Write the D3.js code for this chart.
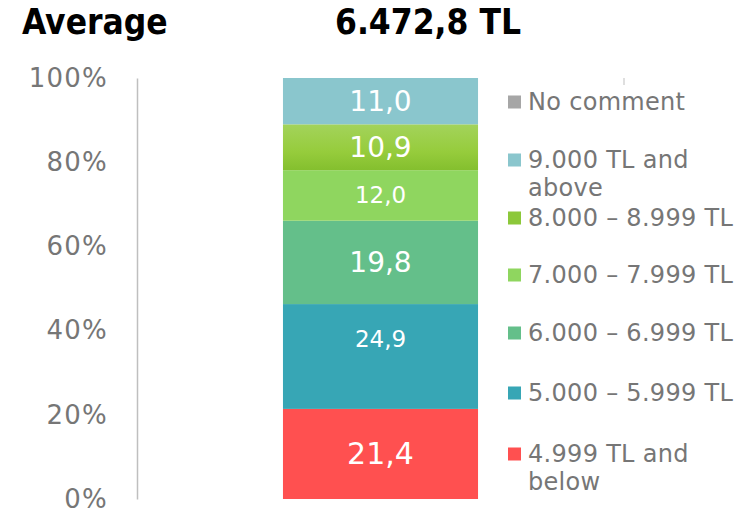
<!DOCTYPE html>
<html>
<head>
<meta charset="utf-8">
<script src="https://cdn.jsdelivr.net/npm/d3@7"></script>
<style>
  body { margin: 0; background: #fff; }
</style>
</head>
<body>
<div id="chart"></div>
<script>
// Data
const categories = ["Average"];
const averageText = "6.472,8 TL";
const seriesNames = [
  "4.999 TL and below",
  "5.000 – 5.999 TL",
  "6.000 – 6.999 TL",
  "7.000 – 7.999 TL",
  "8.000 – 8.999 TL",
  "9.000 TL and above",
  "No comment",
];
const seriesValues = [21.4, 24.9, 19.8, 12.0, 10.9, 11.0, 0];
const legendLines = [
  ["4.999 TL and", "below"],
  ["5.000 – 5.999 TL"],
  ["6.000 – 6.999 TL"],
  ["7.000 – 7.999 TL"],
  ["8.000 – 8.999 TL"],
  ["9.000 TL and", "above"],
  ["No comment"],
];
const yTicks = [0, 20, 40, 60, 80, 100];

const width = 751;
const height = 512;
const marginTop = 78;
const marginBottom = 13;
const axisX = 137;
const plotRight = 624;

const colors = ["#FF5050", "#37A6B5", "#64BF8A", "#8FD65F", "url(#grad8000)", "#8AC6CD", "#A6A6A6"];
const legendColors = ["#FF5050", "#37A6B5", "#64BF8A", "#8FD65F", "#8CC83A", "#8AC6CD", "#A6A6A6"];
const labelSizes = [30, 23, 28, 23, 28, 28, 22];
const labelShift = [0, -17, 0, 0, 0, 0, 0]; // the 24,9 label sits above centre in the original
const sans = "Verdana, 'DejaVu Sans', sans-serif";
const condensed = "'Liberation Sans Narrow', 'DejaVu Sans Condensed', sans-serif";

// Scales
const x = d3.scaleBand()
  .domain(categories)
  .range([axisX, plotRight])
  .padding(0.428);

const y = d3.scaleLinear()
  .domain([0, 100])
  .range([height - marginBottom, marginTop]);

// Stack
const row = { cat: categories[0] };
seriesNames.forEach((s, i) => (row[s] = seriesValues[i]));
const stacked = d3.stack().keys(seriesNames)([row]);

const svg = d3.select("#chart")
  .append("svg")
  .attr("width", width)
  .attr("height", height)
  .attr("viewBox", [0, 0, width, height]);

const defs = svg.append("defs");
const grad = defs.append("linearGradient")
  .attr("id", "grad8000")
  .attr("x1", 0).attr("y1", 0).attr("x2", 0).attr("y2", 1);
grad.append("stop").attr("offset", "0%").attr("stop-color", "#A3D35B");
grad.append("stop").attr("offset", "60%").attr("stop-color", "#96CC3C");
grad.append("stop").attr("offset", "100%").attr("stop-color", "#84BF2E");

// Title
svg.append("text")
  .attr("x", 22)
  .attr("y", 34)
  .attr("font-family", condensed)
  .attr("font-weight", 700)
  .attr("font-size", 35)
  .attr("fill", "#000")
  .text("Average");

svg.append("text")
  .attr("x", 335)
  .attr("y", 34)
  .attr("font-family", condensed)
  .attr("font-weight", 700)
  .attr("font-size", 35)
  .attr("fill", "#000")
  .text(averageText);

// Y axis
const yAxis = d3.axisLeft(y)
  .tickValues(yTicks)
  .tickSize(0)
  .tickPadding(29)
  .tickFormat((d) => d + "%");

svg.append("g")
  .attr("transform", `translate(${axisX},0)`)
  .call(yAxis)
  .call((g) => g.select(".domain").attr("stroke", "#BFBFBF").attr("stroke-width", 1.5))
  .call((g) => g.selectAll("text")
    .attr("font-family", sans)
    .attr("font-size", 26)
    .attr("letter-spacing", 1.2)
    .attr("fill", "#767676"));

// small tick at top right
svg.append("line")
  .attr("x1", plotRight).attr("x2", plotRight)
  .attr("y1", y(100)).attr("y2", y(100) + 7)
  .attr("stroke", "#BFBFBF")
  .attr("stroke-width", 1);

// Bars
const layers = svg.append("g")
  .selectAll("g")
  .data(stacked)
  .join("g");

layers.selectAll("rect")
  .data((s) => s.map((d) => ({ d, i: s.index })))
  .join("rect")
  .attr("x", ({ d }) => x(d.data.cat))
  .attr("y", ({ d }) => y(d[1]))
  .attr("width", x.bandwidth())
  .attr("height", ({ d }) => y(d[0]) - y(d[1]))
  .attr("fill", ({ i }) => colors[i]);

// Value labels
layers.selectAll("text")
  .data((s) => s.map((d) => ({ d, i: s.index })).filter(({ d }) => d[1] - d[0] > 0))
  .join("text")
  .attr("x", ({ d }) => x(d.data.cat) + x.bandwidth() / 2)
  .attr("y", ({ d, i }) => y((d[0] + d[1]) / 2) + labelShift[i])
  .attr("text-anchor", "middle")
  .attr("dominant-baseline", "central")
  .attr("font-family", sans)
  .attr("font-size", ({ i }) => labelSizes[i])
  .attr("fill", "#fff")
  .text(({ d }) => d3.format(".1f")(d[1] - d[0]).replace(".", ","));

// Legend (top to bottom in reverse series order)
const legendY = [454, 393, 333, 275, 218, 160, 102];
const legend = svg.append("g")
  .selectAll("g")
  .data(seriesNames.map((s, i) => ({ s, i })))
  .join("g")
  .attr("transform", ({ i }) => `translate(508,${legendY[i]})`);

legend.append("rect")
  .attr("x", 0)
  .attr("y", -6.5)
  .attr("width", 13)
  .attr("height", 13)
  .attr("fill", ({ i }) => legendColors[i]);

legend.append("text")
  .attr("font-family", sans)
  .attr("font-size", 24)
  .attr("letter-spacing", 0.3)
  .attr("fill", "#767676")
  .selectAll("tspan")
  .data(({ i }) => legendLines[i])
  .join("tspan")
  .attr("x", 20)
  .attr("y", (d, j) => j * 28)
  .attr("dominant-baseline", "central")
  .text((d) => d);
</script>
</body>
</html>
